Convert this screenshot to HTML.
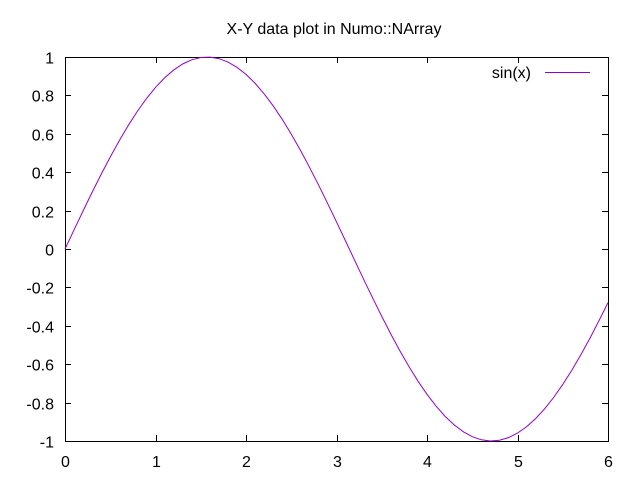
<!DOCTYPE html>
<html><head><meta charset="utf-8"><style>
body{margin:0;background:#fff;}
svg{display:block;font-family:"Liberation Sans",sans-serif;}
</style></head><body>
<svg id="chart" width="640" height="480">
<rect width="640" height="480" fill="#fff"/>
<text x="334" y="34" text-anchor="middle" font-size="16">X-Y data plot in Numo::NArray</text>
<g id="axes"></g>
<path id="line" fill="none" stroke="#9400d3" stroke-width="1"/>
<text x="531" y="78" text-anchor="end" font-size="16">sin(x)</text>
<line x1="545" y1="72.5" x2="590" y2="72.5" stroke="#9400d3"/>
</svg>
<script>
const xValues=[0,0.1,0.2,0.3,0.4,0.5,0.6,0.7,0.8,0.9,1,1.1,1.2,1.3,1.4,1.5,1.6,1.7,1.8,1.9,2,2.1,2.2,2.3,2.4,2.5,2.6,2.7,2.8,2.9,3,3.1,3.2,3.3,3.4,3.5,3.6,3.7,3.8,3.9,4,4.1,4.2,4.3,4.4,4.5,4.6,4.7,4.8,4.9,5,5.1,5.2,5.3,5.4,5.5,5.6,5.7,5.8,5.9,6];
const yValues=[0,0.0998,0.1987,0.2955,0.3894,0.4794,0.5646,0.6442,0.7174,0.7833,0.8415,0.8912,0.9320,0.9636,0.9854,0.9975,0.9996,0.9917,0.9738,0.9463,0.9093,0.8632,0.8085,0.7457,0.6755,0.5985,0.5155,0.4274,0.3350,0.2392,0.1411,0.0416,-0.0584,-0.1577,-0.2555,-0.3508,-0.4425,-0.5298,-0.6119,-0.6878,-0.7568,-0.8183,-0.8716,-0.9162,-0.9516,-0.9775,-0.9937,-0.9999,-0.9962,-0.9825,-0.9589,-0.9258,-0.8835,-0.8323,-0.7728,-0.7055,-0.6313,-0.5507,-0.4646,-0.3739,-0.2794];
const xTicks=[0,1,2,3,4,5,6];
const yTicks=[-1,-0.8,-0.6,-0.4,-0.2,0,0.2,0.4,0.6,0.8,1];
const L=65,R=608,T=57,B=441;
const sx=v=>L+(v-0)/(6-0)*(R-L);
const sy=v=>B-(v+1)/2*(B-T);
const NS="http://www.w3.org/2000/svg";
const ax=document.getElementById('axes');
function mk(tag,attrs){const e=document.createElementNS(NS,tag);for(const k in attrs)e.setAttribute(k,attrs[k]);ax.appendChild(e);return e;}
const fr=mk('rect',{x:L+0.5,y:T+0.5,width:R-L,height:B-T,fill:'none',stroke:'#000'});


xTicks.forEach(t=>{
  const x=Math.round(sx(t))+0.5;
  const a=mk('path',{d:`M${x},${B}v-6M${x},${T}v6`,stroke:'#000'});
  
  
  const tx=mk('text',{x:x,y:B+26,'text-anchor':'middle','font-size':16});
  tx.textContent=t;
  
  
});
yTicks.forEach(t=>{
  const y=Math.round(sy(t))+0.5;
  const a=mk('path',{d:`M${L},${y}h6M${R},${y}h-6`,stroke:'#000'});
  
  
  const tx=mk('text',{x:L-11,y:y+6,'text-anchor':'end','font-size':16});
  tx.textContent=(Math.round(t*10)/10).toString();
  
  
});
document.getElementById('line').setAttribute('d',xValues.map((x,i)=>(i?'L':'M')+sx(x).toFixed(2)+','+sy(yValues[i]).toFixed(2)).join(''));
</script>
</body></html>
